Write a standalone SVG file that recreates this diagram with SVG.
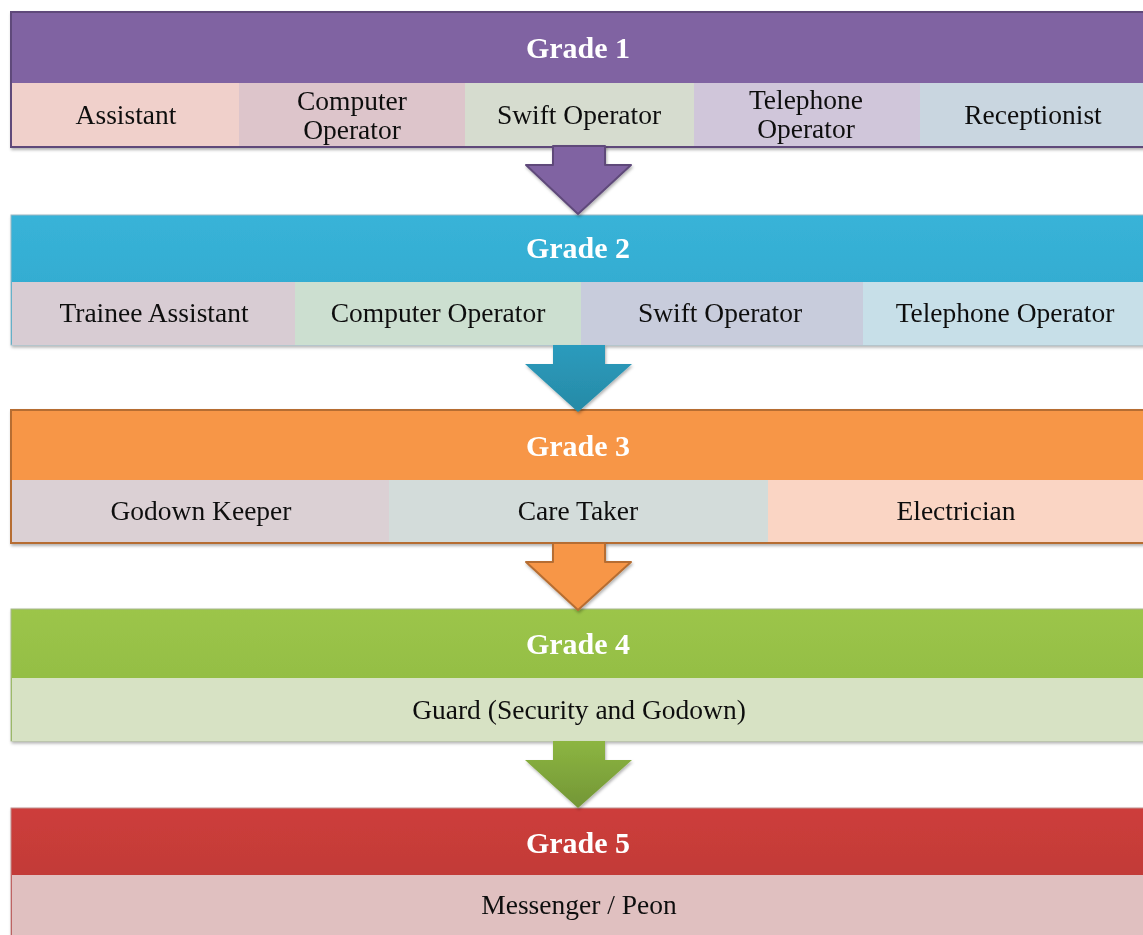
<svg xmlns="http://www.w3.org/2000/svg" width="1143" height="935" viewBox="0 0 1143 935">
<style>
.hd{font-family:"Liberation Serif","Times New Roman",serif;font-weight:bold;font-size:30px;fill:#ffffff;text-anchor:middle}
.tx{font-family:"Liberation Serif","Times New Roman",serif;font-size:27.5px;fill:#111111;text-anchor:middle}
</style>
<defs>
<filter id="sh" x="-5%" y="-10%" width="110%" height="130%">
<feDropShadow dx="1" dy="2" stdDeviation="1.5" flood-color="#000" flood-opacity="0.3"/>
</filter>
<linearGradient id="g2" x1="0" y1="0" x2="0" y2="1"><stop offset="0" stop-color="#38B3D8"/><stop offset="1" stop-color="#2FA7CC"/></linearGradient>
<linearGradient id="g4" x1="0" y1="0" x2="0" y2="1"><stop offset="0" stop-color="#9CC54A"/><stop offset="1" stop-color="#8DB83F"/></linearGradient>
<linearGradient id="g5" x1="0" y1="0" x2="0" y2="1"><stop offset="0" stop-color="#CD3E3B"/><stop offset="1" stop-color="#B83634"/></linearGradient>
<linearGradient id="a2" x1="0" y1="0" x2="0" y2="1"><stop offset="0" stop-color="#2C9BBD"/><stop offset="1" stop-color="#268AA6"/></linearGradient>
<linearGradient id="a4" x1="0" y1="0" x2="0" y2="1"><stop offset="0" stop-color="#8CB541"/><stop offset="1" stop-color="#739636"/></linearGradient>
</defs>
<rect width="1143" height="935" fill="#ffffff"/>

<g id="grade1" filter="url(#sh)">
<rect x="11" y="12" width="1140" height="135" fill="#8064A2" stroke="#5F497A" stroke-width="2"/>
<rect x="12" y="83" width="227" height="63" fill="#F0D0CB"/>
<rect x="239" y="83" width="226" height="63" fill="#DDC5CB"/>
<rect x="465" y="83" width="229" height="63" fill="#D6DCCF"/>
<rect x="694" y="83" width="226" height="63" fill="#D0C6DA"/>
<rect x="920" y="83" width="230" height="63" fill="#C9D6E0"/>
<text class="hd" x="578" y="58">Grade 1</text>
<text class="tx" x="126" y="124">Assistant</text>
<text class="tx" x="352" y="110">Computer</text>
<text class="tx" x="352" y="139">Operator</text>
<text class="tx" x="579" y="124">Swift Operator</text>
<text class="tx" x="806" y="109">Telephone</text>
<text class="tx" x="806" y="138">Operator</text>
<text class="tx" x="1033" y="124">Receptionist</text>
</g>

<g id="grade2" filter="url(#sh)">
<rect x="11" y="215" width="1140" height="130" fill="url(#g2)" stroke="#9AB8C4" stroke-width="1"/>
<rect x="12" y="282" width="283" height="63" fill="#D8CCD3"/>
<rect x="295" y="282" width="286" height="63" fill="#CCDFD0"/>
<rect x="581" y="282" width="282" height="63" fill="#C8CCDC"/>
<rect x="863" y="282" width="287" height="63" fill="#C7DFE8"/>
<text class="hd" x="578" y="258">Grade 2</text>
<text class="tx" x="154" y="322">Trainee Assistant</text>
<text class="tx" x="438" y="322">Computer Operator</text>
<text class="tx" x="720" y="322">Swift Operator</text>
<text class="tx" x="1005" y="322">Telephone Operator</text>
</g>

<g id="grade3" filter="url(#sh)">
<rect x="11" y="410" width="1140" height="133" fill="#F79646" stroke="#B66D31" stroke-width="2"/>
<rect x="12" y="480" width="377" height="62" fill="#DBD0D4"/>
<rect x="389" y="480" width="379" height="62" fill="#D3DCDA"/>
<rect x="768" y="480" width="382" height="62" fill="#FAD5C4"/>
<text class="hd" x="578" y="456">Grade 3</text>
<text class="tx" x="201" y="520">Godown Keeper</text>
<text class="tx" x="578" y="520">Care Taker</text>
<text class="tx" x="956" y="520">Electrician</text>
</g>

<g id="grade4" filter="url(#sh)">
<rect x="11" y="609" width="1140" height="132" fill="url(#g4)" stroke="#A8B890" stroke-width="1"/>
<rect x="12" y="678" width="1138" height="63" fill="#D7E2C4"/>
<text class="hd" x="578" y="654">Grade 4</text>
<text class="tx" x="579" y="719">Guard (Security and Godown)</text>
</g>

<g id="grade5" filter="url(#sh)">
<rect x="11" y="808" width="1140" height="130" fill="url(#g5)" stroke="#C09090" stroke-width="1"/>
<rect x="12" y="875" width="1138" height="62" fill="#E0C0C0"/>
<text class="hd" x="578" y="853">Grade 5</text>
<text class="tx" x="579" y="914">Messenger / Peon</text>
</g>

<g id="connectors" filter="url(#sh)">
<polygon points="553,146 605,146 605,165 631,165 578,214 526,165 553,165" fill="#8064A2" stroke="#5F497A" stroke-width="2" stroke-linejoin="round"/>
<polygon points="553,345 605,345 605,364 632,364 578,412 525,364 553,364" fill="url(#a2)"/>
<polygon points="553,543 605,543 605,562 631,562 578,610 526,562 553,562" fill="#F79646" stroke="#B66D31" stroke-width="2" stroke-linejoin="round"/>
<polygon points="553,741 605,741 605,760 632,760 578,808 525,760 553,760" fill="url(#a4)"/>
</g>
</svg>
